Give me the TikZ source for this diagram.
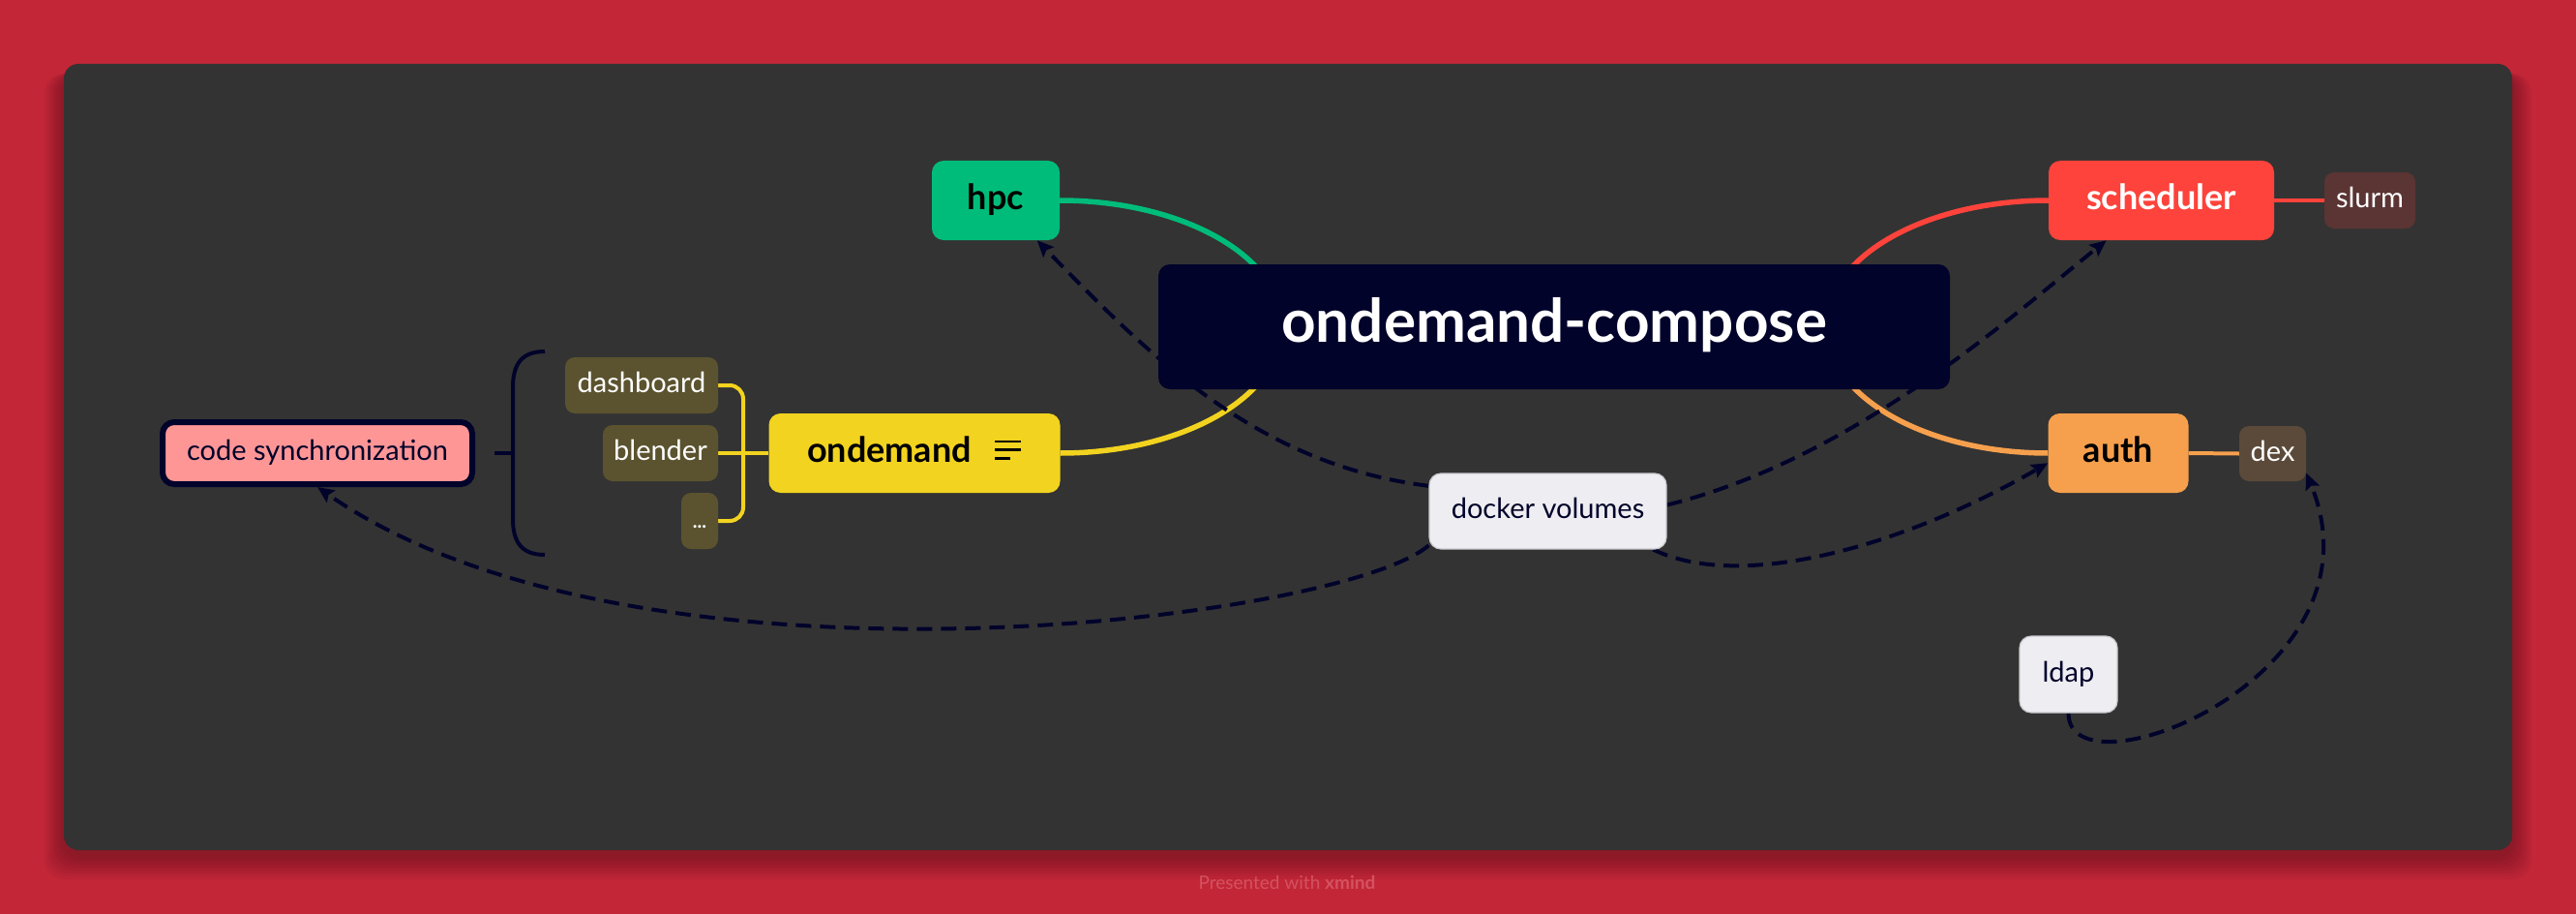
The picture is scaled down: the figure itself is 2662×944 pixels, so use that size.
\documentclass[tikz,border=0pt]{standalone}
\usepackage{fontspec}
\setmainfont{Lato}
\usetikzlibrary{arrows.meta,calc}
\pgfdeclarelayer{back}
\pgfdeclarelayer{links}
\pgfsetlayers{back,links,main}
\definecolor{bgred}{RGB}{194,38,55}
\definecolor{panel}{RGB}{51,51,51}
\definecolor{navy}{RGB}{1,3,42}
\definecolor{hpcgreen}{RGB}{0,188,123}
\definecolor{schedred}{RGB}{253,67,59}
\definecolor{slurmbrown}{RGB}{91,52,52}
\definecolor{authorange}{RGB}{246,160,77}
\definecolor{dexbrown}{RGB}{91,74,58}
\definecolor{odyellow}{RGB}{242,211,31}
\definecolor{subolive}{RGB}{91,83,47}
\definecolor{pinkfill}{RGB}{255,150,150}
\definecolor{lightfill}{RGB}{238,237,241}
\definecolor{lightborder}{RGB}{200,200,206}
\definecolor{footer}{RGB}{212,82,96}
\begin{document}
\begin{tikzpicture}[x=1pt,y=-1pt,
  box/.style={rectangle, rounded corners=12pt, inner sep=0pt, align=center},
  mainbox/.style={box, minimum height=82pt, text height=26pt, text depth=8pt, font=\fontsize{36}{40}\selectfont\bfseries},
  subbox/.style={box, rounded corners=10pt, minimum height=58pt, text height=21pt, text depth=6pt, font=\fontsize{29}{32}\selectfont},
  lightbox/.style={box, fill=lightfill, draw=lightborder, line width=1.2pt, text=navy, text height=21pt, text depth=6pt, font=\fontsize{29}{32}\selectfont},
  branch/.style={line width=5.5pt},
  twig/.style={line width=4pt},
  rel/.style={navy, line width=4pt, dash pattern=on 16pt off 9pt, -{Stealth[length=17pt,width=15pt,inset=3pt]}},
]
\useasboundingbox (0,0) rectangle (2662,944);
\begin{pgfonlayer}{back}
  \fill[bgred] (0,0) rectangle (2662,944);
  \foreach \i in {1,...,8}
    \fill[black, opacity=0.035, rounded corners=20pt] ({66-\i*2.5},76) rectangle ({2596+\i*2.5},{884+\i*3});
  \fill[panel, rounded corners=15pt] (66,66) rectangle (2596,878);
\end{pgfonlayer}

\node[text=footer, font=\fontsize{19}{22}\selectfont] (foot) at (1330,912) {Presented with \textbf{xmind}};

\coordinate (rootL) at (1325,337);
\coordinate (rootR) at (1887,337);
\coordinate (junc) at (768,468);

\node[box, fill=navy, text=white, minimum width=818pt, minimum height=129pt, text height=45pt, text depth=13pt, font=\fontsize{62}{70}\selectfont\bfseries] (root) at (1606,337.5) {ondemand-compose};
\node[mainbox, fill=hpcgreen, minimum width=132pt] (hpc) at (1029,207) {hpc};
\node[mainbox, fill=schedred, text=white, minimum width=233pt] (sched) at (2233.5,207) {scheduler};
\node[subbox, fill=slurmbrown, text=white, minimum width=94pt] (slurm) at (2449,207) {slurm};
\node[mainbox, fill=authorange, minimum width=145pt] (auth) at (2189,468) {auth};
\node[subbox, fill=dexbrown, text=white, minimum width=69pt, minimum height=57pt] (dex) at (2348.5,468.5) {dex};
\node[lightbox, minimum width=245pt, minimum height=78pt] (docker) at (1599.5,528) {docker volumes};
\node[lightbox, minimum width=101pt, minimum height=79pt] (ldap) at (2137.5,696.5) {ldap};
\node[mainbox, fill=odyellow, minimum width=301pt] (ondemand) at (945,468) {ondemand\hspace*{52pt}};
\draw[line width=2.4pt] ($(ondemand.center)+(83,-12.3)$) -- ++(27,0)
  ($(ondemand.center)+(83,-3.7)$) -- ++(27,0)
  ($(ondemand.center)+(83,5.3)$) -- ++(16,0);
\node[subbox, fill=subolive, text=white, minimum width=158pt] (dboard) at (663,398) {dashboard};
\node[subbox, fill=subolive, text=white, minimum width=119pt] (blender) at (682.5,468) {blender};
\node[subbox, fill=subolive, text=white, minimum width=38pt, font=\fontsize{20}{24}\selectfont\bfseries] (dots) at (723,538) {...};
\node[box, fill=pinkfill, draw=navy, line width=6pt, text=navy, minimum width=320pt, minimum height=64pt, text height=21pt, text depth=6pt, font=\fontsize{29}{32}\selectfont] (codesync) at (328,468) {code synchronization};

\begin{pgfonlayer}{links}
  \draw[branch, hpcgreen] (hpc.east) .. controls +(127,0) and +(0,-72) .. (rootL);
  \draw[branch, odyellow] (ondemand.east) .. controls +(127,0) and +(0,72) .. (rootL);
  \draw[branch, schedred] (sched.west) .. controls +(-127,0) and +(0,-72) .. (rootR);
  \draw[branch, authorange] (auth.west) .. controls +(-127,0) and +(0,72) .. (rootR);
  \draw[twig, schedred] (sched.east) -- (slurm.west);
  \draw[twig, authorange] (auth.east) -- (dex.west);
  \draw[twig, odyellow, rounded corners=14pt] (dboard.east) -| (junc) |- (dots.east);
  \draw[twig, odyellow] (blender.east) -- (ondemand.west);
  \draw[navy, line width=4pt] (563,363) .. controls (540,363) and (530,375) .. (530,400) -- (530,536) .. controls (530,561) and (540,573) .. (563,573);
  \draw[navy, line width=4pt] (511,468) -- (530,468);
  \draw[rel] (docker.168) .. controls (1300,480) and (1190,370) .. (hpc.-44);
  \draw[rel] (docker.3) .. controls (1916,474) and (2082,324) .. (sched.-144);
  \draw[rel] (docker.-20) .. controls (1796,610) and (1960,568) .. (auth.188);
  \draw[rel] (docker.196) .. controls (1388,640) and (658,733) .. (codesync.south);
  \draw[rel] (ldap.south) .. controls +(0,90) and (2470,700) .. (dex.-30);
\end{pgfonlayer}
\end{tikzpicture}
\end{document}
